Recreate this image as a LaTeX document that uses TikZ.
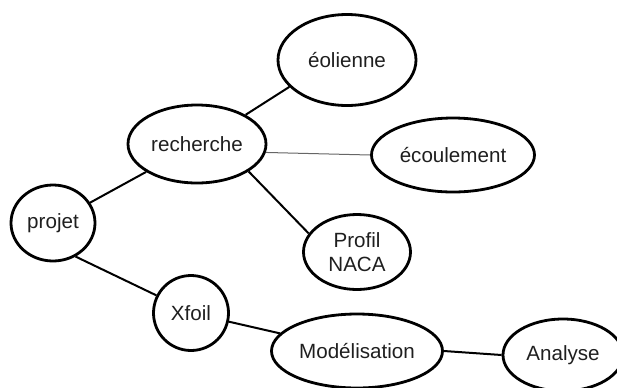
\documentclass[tikz,border=0pt]{standalone}
\usepackage{fontspec}
\setmainfont{Liberation Sans}
\usetikzlibrary{shapes.geometric}
\begin{document}
\begin{tikzpicture}[x=0.5pt,y=-0.5pt,
    bulle/.style={ellipse, draw, line width=1.4pt, inner sep=0pt, align=center,
      text=black!88, font=\fontsize{10.3}{12}\selectfont},
    lien/.style={line width=1pt}]
    \clip (0,0) rectangle (617,387);
    \node [bulle, minimum width=42pt, minimum height=38pt]   (projet)    at (53,223)  {projet};
    \node [bulle, minimum width=69pt, minimum height=39pt]   (recherche) at (197,144) {recherche};
    \node [bulle, minimum width=69pt, minimum height=45.5pt] (eolienne)  at (347,60)  {éolienne};
    \node [bulle, minimum width=81.5pt, minimum height=37pt] (ecoulement) at (453,155) {écoulement};
    \node [bulle, minimum width=53.5pt, minimum height=37.5pt] (naca)    at (357,252) {Profil\\NACA};
    \node [bulle, minimum width=37.5pt, minimum height=37.5pt] (xfoil)   at (191,313) {Xfoil};
    \node [bulle, minimum width=85.5pt, minimum height=37pt] (modele)    at (357,351) {Modélisation};
    \node [bulle, minimum width=60pt, minimum height=36pt]   (analyse)   at (563,355) {Analyse};
    \draw [lien] (projet) -- (recherche);% branche recherche
    \draw [lien] (recherche.31) -- (eolienne.-155);
    \draw [line width=0.5pt, black!60] (recherche.-7) -- (ecoulement.west);
    \draw [lien] (recherche.-28) -- (naca.159);
    \draw [lien] (projet.-56) -- (xfoil.153);% branche Xfoil
    \draw [lien] (xfoil) -- (modele);
    \draw [lien] (modele.east) -- (analyse.west);
\end{tikzpicture}
\end{document}
